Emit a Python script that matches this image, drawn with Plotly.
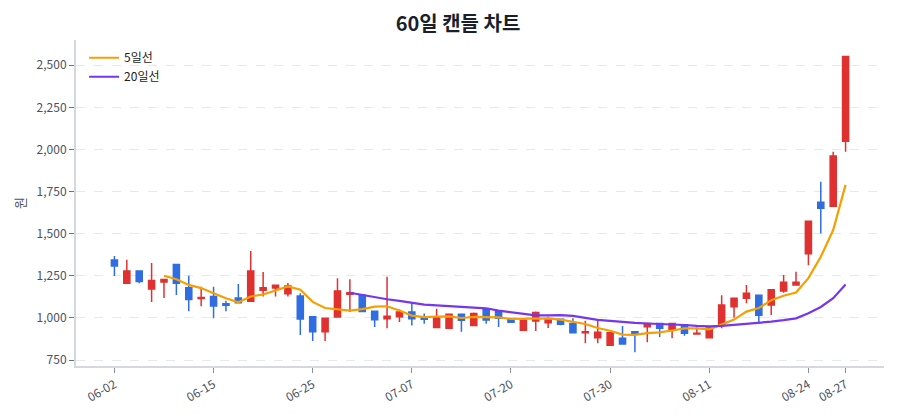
import pandas as pd
import plotly.graph_objects as go

# -----------------------------
# DATA (60 trading days)
# -----------------------------
dates = [
    "06-02", "06-04", "06-05", "06-08", "06-09", "06-10", "06-11", "06-12",
    "06-15", "06-16", "06-17", "06-18", "06-19", "06-22", "06-23", "06-24",
    "06-25", "06-26", "06-29", "06-30", "07-01", "07-02", "07-03", "07-06",
    "07-07", "07-08", "07-09", "07-10", "07-13", "07-14", "07-15", "07-16",
    "07-20", "07-21", "07-22", "07-23", "07-24", "07-27", "07-28", "07-29",
    "07-30", "07-31", "08-03", "08-04", "08-05", "08-06", "08-07", "08-10",
    "08-11", "08-12", "08-13", "08-14", "08-18", "08-19", "08-20", "08-21",
    "08-24", "08-25", "08-26", "08-27",
]

open_ = [
    1344, 1206, 1279, 1172, 1214, 1317, 1180, 1115, 1127, 1085,
    1119, 1099, 1165, 1178, 1144, 1131, 1008, 919, 1006, 1141,
    1135, 1040, 996, 1008, 1036, 1006, 943, 939, 1022, 956,
    1055, 1042, 992, 927, 982, 972, 992, 968, 913, 883,
    838, 879, 919, 948, 968, 933, 960, 905, 883, 962,
    1067, 1117, 1135, 1077, 1160, 1196, 1382, 1687, 1663, 2049,
]
high = [
    1368, 1346, 1282, 1327, 1230, 1317, 1251, 1186, 1186, 1103,
    1202, 1398, 1273, 1196, 1208, 1147, 1010, 1000, 1236, 1230,
    1140, 1040, 1245, 1051, 1091, 1026, 1055, 1025, 1024, 1032,
    1057, 1045, 995, 998, 1038, 1008, 995, 998, 984, 984,
    915, 952, 922, 970, 970, 970, 962, 943, 947, 1135,
    1120, 1196, 1138, 1170, 1255, 1275, 1576, 1808, 1986, 2552,
]
low = [
    1249, 1204, 1206, 1095, 1119, 1137, 1040, 1069, 998, 1040,
    1088, 1097, 1127, 1127, 1127, 899, 863, 863, 1004, 1036,
    1036, 947, 939, 976, 956, 966, 941, 937, 919, 954,
    966, 947, 970, 925, 923, 941, 957, 911, 850, 850,
    836, 844, 796, 856, 887, 879, 895, 905, 881, 939,
    1002, 1087, 976, 1018, 1150, 1192, 1313, 1501, 1660, 1986,
]
close = [
    1309, 1279, 1216, 1222, 1228, 1206, 1109, 1122, 1071, 1075,
    1091, 1279, 1180, 1194, 1190, 994, 919, 998, 1160, 1150,
    1038, 990, 1010, 1036, 996, 992, 1004, 1022, 986, 1026,
    988, 998, 975, 986, 1032, 995, 963, 913, 918, 915,
    913, 846, 907, 968, 939, 968, 909, 909, 940, 1077,
    1117, 1147, 1016, 1168, 1212, 1212, 1574, 1651, 1962, 2552,
]

# tick labels shown on the x axis
tick_dates = ["06-02", "06-15", "06-25", "07-07", "07-20", "07-30", "08-11", "08-24", "08-27"]

df = pd.DataFrame({"date": dates, "open": open_, "high": high, "low": low, "close": close})
df["ma5"] = df["close"].rolling(5).mean()
df["ma20"] = df["close"].rolling(20).mean()

UP = "#e03131"
DOWN = "#2f6de1"
FONT = "Noto Sans CJK KR"

# -----------------------------
# FIGURE
# -----------------------------
fig = go.Figure()

fig.add_trace(go.Candlestick(
    x=df["date"], open=df["open"], high=df["high"], low=df["low"], close=df["close"],
    increasing=dict(line=dict(color=UP, width=1.5), fillcolor=UP),
    decreasing=dict(line=dict(color=DOWN, width=1.5), fillcolor=DOWN),
    showlegend=False, name="캔들",
))

fig.add_trace(go.Scatter(
    x=df["date"], y=df["ma5"], mode="lines", name="5일선",
    line=dict(color="#f59f00", width=2.2),
))
fig.add_trace(go.Scatter(
    x=df["date"], y=df["ma20"], mode="lines", name="20일선",
    line=dict(color="#7636ef", width=2.2),
))

fig.update_layout(
    width=900, height=420,
    margin=dict(l=68, r=24, t=32, b=62),
    paper_bgcolor="white", plot_bgcolor="white",
    font=dict(family=FONT, size=12, color="#4a5160"),
    title=dict(text="<b>60일 캔들 차트</b>", x=0.5, xanchor="center", y=0.962, yanchor="middle",
               font=dict(family=FONT, size=20, color="#1a1f2e")),
    legend=dict(x=0.01, y=0.99, xanchor="left", yanchor="top", bgcolor="rgba(0,0,0,0)",
                font=dict(family=FONT, size=12, color="#222")),
    xaxis=dict(
        type="category", rangeslider=dict(visible=False),
        range=[-3.1, 62.1], automargin=False,
        tickmode="array", tickvals=tick_dates, ticktext=tick_dates,
        tickangle=-30, ticks="outside", ticklen=5, tickcolor="#8a909a",
        showline=True, linecolor="#d5d9df", linewidth=2,
        showgrid=False, tickfont=dict(size=12, color="#4a5160"),
    ),
    yaxis=dict(
        title=dict(text="원", standoff=8, font=dict(size=13)),
        range=[715, 2650], automargin=False,
        tickvals=[750, 1000, 1250, 1500, 1750, 2000, 2250, 2500],
        tickformat=",", ticks="outside", ticklen=5, tickcolor="#6b7280",
        showline=True, linecolor="#d5d9df", linewidth=2,
        showgrid=True, gridcolor="#e6e8eb", griddash="dash", zeroline=False,
        tickfont=dict(size=12, color="#4a5160"),
    ),
)

fig.write_html("out.html")
